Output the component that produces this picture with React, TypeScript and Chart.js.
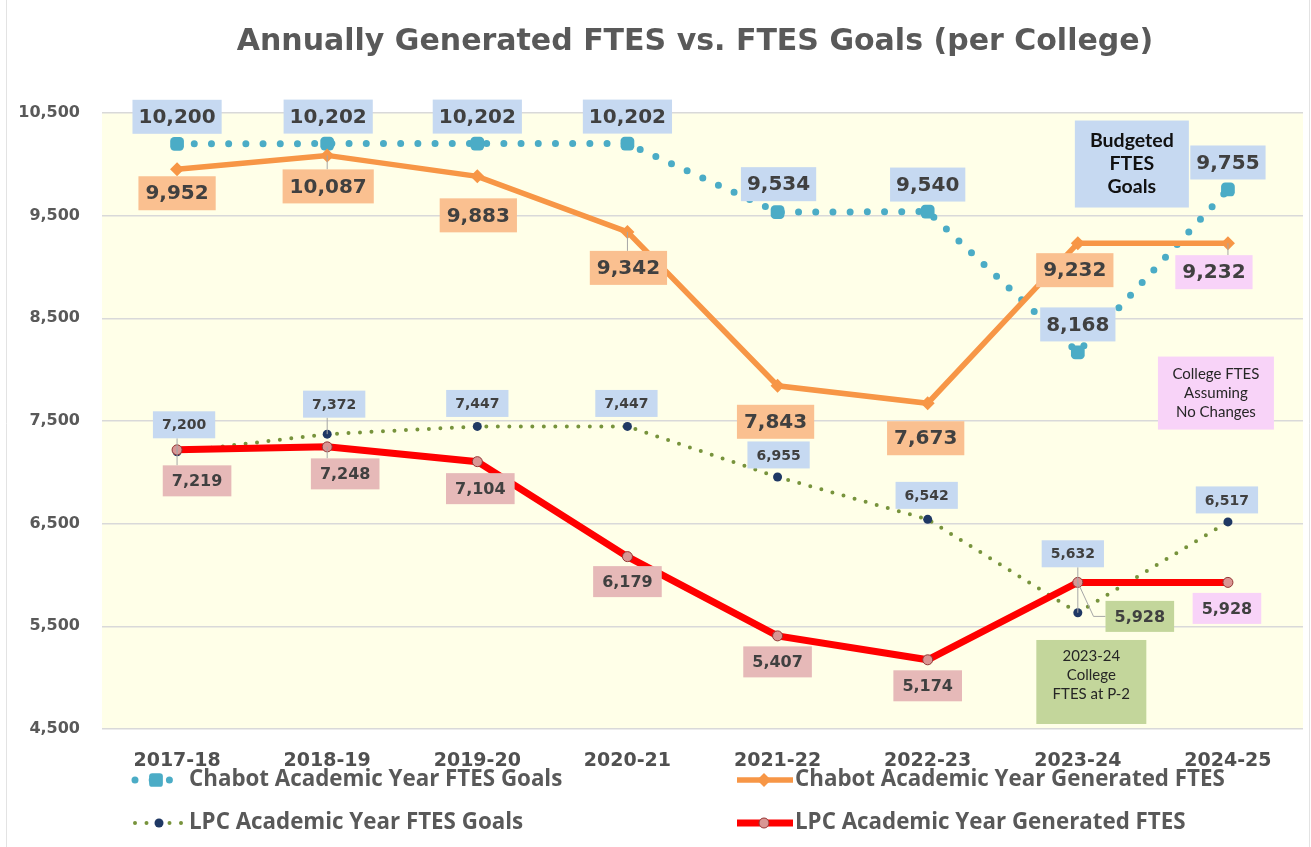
import React, { useEffect, useRef } from 'react';
import { Chart, registerables } from 'chart.js';

Chart.register(...registerables);

// ---------- data ----------
const categories = ['2017-18', '2018-19', '2019-20', '2020-21', '2021-22', '2022-23', '2023-24', '2024-25'];
const chabotGoals = [10200, 10202, 10202, 10202, 9534, 9540, 8168, 9755];
const chabotGenerated = [9952, 10087, 9883, 9342, 7843, 7673, 9232, 9232];
const lpcGoals = [7200, 7372, 7447, 7447, 6955, 6542, 5632, 6517];
const lpcGenerated = [7219, 7248, 7104, 6179, 5407, 5174, 5928, 5928];
const seriesNames = [
  'Chabot Academic Year FTES Goals',
  'Chabot Academic Year Generated FTES',
  'LPC Academic Year FTES Goals',
  'LPC Academic Year Generated FTES',
];
const yMin = 4500;
const yMax = 10500;
const yStep = 1000;
const titleText = 'Annually Generated FTES vs. FTES Goals (per College)';
const noteBudgeted = ['Budgeted', 'FTES', 'Goals'];
const noteNoChanges = ['College FTES', 'Assuming', 'No Changes'];
const noteP2 = ['2023-24', 'College', 'FTES at P-2'];

// ---------- label placement (styling only) ----------
// [dx, dy, leader(0 none,1 straight,2 elbow), background]
const BLUE = '#C6D9F1';
const ORANGE = '#FAC090';
const ROSE = '#E6B9B8';
const PINK = '#F8D3F8';
const GREEN = '#C3D69B';
type Place = [number, number, number, string];
const chabotGoalsPlace: Place[] = [
  [0, -27, 0, BLUE], [1, -27, 0, BLUE], [0, -27, 0, BLUE], [0, -27, 0, BLUE],
  [1, -28, 0, BLUE], [0, -27, 0, BLUE], [0, -28, 0, BLUE], [0, -27, 0, BLUE],
];
const chabotGenPlace: Place[] = [
  [0, 24, 0, ORANGE], [1, 31, 1, ORANGE], [1, 39, 0, ORANGE], [1, 36, 1, ORANGE],
  [-2, 36, 0, ORANGE], [-2, 35, 0, ORANGE], [-3, 27, 0, ORANGE], [-14, 29, 1, PINK],
];
const lpcGoalsPlace: Place[] = [
  [7, -27, 1, BLUE], [7, -30, 1, BLUE], [0, -23, 0, BLUE], [-1, -23, 0, BLUE],
  [1, -22, 0, BLUE], [-1, -24, 0, BLUE], [-5, -59, 1, BLUE], [-1, -22, 0, BLUE],
];
const lpcGenPlace: Place[] = [
  [20, 31, 1, ROSE], [18, 27, 1, ROSE], [3, 27, 0, ROSE], [0, 25, 0, ROSE],
  [0, 26, 0, ROSE], [0, 26, 0, ROSE], [62, 34, 2, GREEN], [-1, 26, 0, PINK],
];
const labelStyles = [
  { place: chabotGoalsPlace, font: 'bold 20px "DejaVu Sans"', padX: 6, h: 34 },
  { place: chabotGenPlace, font: 'bold 20px "DejaVu Sans"', padX: 7, h: 34 },
  { place: lpcGoalsPlace, font: 'bold 14px "DejaVu Sans"', padX: 9, h: 27 },
  { place: lpcGenPlace, font: 'bold 16px "DejaVu Sans"', padX: 9, h: 31 },
];

const fmt = (v: number) => v.toLocaleString('en-US');

const drawBox = (ctx: CanvasRenderingContext2D, cx: number, cy: number, w: number, h: number, bg: string) => {
  ctx.fillStyle = bg;
  ctx.fillRect(cx - w / 2, cy - h / 2, w, h);
};

const drawMarker = (ctx: CanvasRenderingContext2D, ds: any, x: number, y: number) => {
  const r = ds.pointRadius;
  ctx.save();
  ctx.fillStyle = ds.pointBackgroundColor;
  ctx.strokeStyle = ds.pointBorderColor;
  ctx.lineWidth = ds.pointBorderWidth || 0;
  ctx.setLineDash([]);
  ctx.beginPath();
  if (ds.pointStyle === 'rectRounded') {
    const half = r * 0.858;
    const cr = r * 0.4;
    ctx.moveTo(x - half + cr, y - half);
    ctx.arcTo(x + half, y - half, x + half, y + half, cr);
    ctx.arcTo(x + half, y + half, x - half, y + half, cr);
    ctx.arcTo(x - half, y + half, x - half, y - half, cr);
    ctx.arcTo(x - half, y - half, x + half, y - half, cr);
  } else if (ds.pointStyle === 'rectRot') {
    ctx.moveTo(x, y - r);
    ctx.lineTo(x + r, y);
    ctx.lineTo(x, y + r);
    ctx.lineTo(x - r, y);
  } else {
    ctx.arc(x, y, r, 0, Math.PI * 2);
  }
  ctx.closePath();
  ctx.fill();
  if (ds.pointBorderWidth) ctx.stroke();
  ctx.restore();
};

const customPlugin = {
  id: 'custom',
  beforeDraw(chart: any) {
    const { ctx, chartArea: a } = chart;
    ctx.save();
    ctx.fillStyle = '#FFFFFF';
    ctx.fillRect(0, 0, chart.width, chart.height);
    ctx.fillStyle = '#FFFFE8';
    ctx.fillRect(a.left, a.top, a.right - a.left, a.bottom - a.top);
    ctx.strokeStyle = '#E3E3E3';
    ctx.lineWidth = 1;
    ctx.beginPath();
    ctx.moveTo(6.5, 0);
    ctx.lineTo(6.5, chart.height);
    ctx.moveTo(1309.5, 0);
    ctx.lineTo(1309.5, chart.height);
    ctx.stroke();
    ctx.restore();
  },
  afterDatasetsDraw(chart: any) {
    const { ctx } = chart;
    const xs = chart.scales.x;
    const ys = chart.scales.y;
    ctx.save();
    // leaders first
    chart.data.datasets.forEach((ds: any, di: number) => {
      const st = labelStyles[di];
      ctx.font = st.font;
      ds.data.forEach((v: number, i: number) => {
        const [dx, dy, leader] = st.place[i];
        if (!leader) return;
        const px = xs.getPixelForValue(i);
        const py = ys.getPixelForValue(v);
        const w = ctx.measureText(fmt(v)).width + st.padX * 2;
        const cx = px + dx;
        const cy = py + dy;
        const l = cx - w / 2, r = cx + w / 2, t = cy - st.h / 2, b = cy + st.h / 2;
        ctx.strokeStyle = '#A6A6A6';
        ctx.lineWidth = 1;
        ctx.beginPath();
        ctx.moveTo(px, py);
        if (leader === 2) {
          ctx.lineTo(l - 12, cy);
          ctx.lineTo(l, cy);
        } else {
          const qx = Math.min(Math.max(px, l), r);
          const qy = Math.min(Math.max(py, t), b);
          ctx.lineTo(qx, qy);
        }
        ctx.stroke();
      });
    });
    // boxes and texts
    chart.data.datasets.forEach((ds: any, di: number) => {
      const st = labelStyles[di];
      ctx.font = st.font;
      ctx.textAlign = 'center';
      ctx.textBaseline = 'middle';
      ds.data.forEach((v: number, i: number) => {
        const [dx, dy, , bg] = st.place[i];
        const px = xs.getPixelForValue(i);
        const py = ys.getPixelForValue(v);
        const txt = fmt(v);
        const w = ctx.measureText(txt).width + st.padX * 2;
        drawBox(ctx, px + dx, py + dy, w, st.h, bg);
        ctx.fillStyle = '#404040';
        ctx.fillText(txt, px + dx, py + dy + 1);
      });
    });

    // note boxes anchored in data coordinates
    const notes = [
      { lines: noteBudgeted, xi: 6.36, y: 10003, w: 114, h: 87, bg: BLUE, font: 'bold 19.5px Lato', lh: 23, color: '#111111', top: 0 },
      { lines: noteNoChanges, xi: 6.92, y: 7772, w: 116, h: 73, bg: PINK, font: '15px Lato', lh: 19, color: '#262626', top: 0 },
      { lines: noteP2, xi: 6.09, y: 4958, w: 110, h: 84, bg: GREEN, font: '15px Lato', lh: 19, color: '#262626', top: 16 },
    ];
    notes.forEach((n) => {
      const cx = xs.getPixelForValue(0) + n.xi * (xs.getPixelForValue(1) - xs.getPixelForValue(0));
      const cy = ys.getPixelForValue(n.y);
      drawBox(ctx, cx, cy, n.w, n.h, n.bg);
      ctx.font = n.font;
      ctx.fillStyle = n.color;
      ctx.textAlign = 'center';
      ctx.textBaseline = 'middle';
      const top = n.top ? cy - n.h / 2 + n.top : cy - ((n.lines.length - 1) * n.lh) / 2;
      n.lines.forEach((s, k) => ctx.fillText(s, cx, top + k * n.lh));
    });
    ctx.restore();
  },
  afterDraw(chart: any) {
    const { ctx } = chart;
    ctx.save();
    // title
    ctx.font = 'bold 30px "DejaVu Sans"';
    ctx.fillStyle = '#595959';
    ctx.textAlign = 'center';
    ctx.textBaseline = 'middle';
    ctx.fillText(titleText, 695, 42);

    // legend
    const slots = [
      { x1: 135, x2: 171, mx: 156, tx: 189, y: 780 },
      { x1: 737, x2: 793, mx: 764, tx: 795, y: 780 },
      { x1: 135, x2: 182, mx: 159, tx: 189, y: 823 },
      { x1: 737, x2: 793, mx: 764, tx: 795, y: 823 },
    ];
    // legend font size fitted so the longest entry spans the reference width
    ctx.font = 'bold 20px "Open Sans"';
    const base = ctx.measureText(seriesNames[1]).width;
    const size = 20 * (430 / base);
    chart.data.datasets.forEach((ds: any, di: number) => {
      const s = slots[di];
      ctx.save();
      ctx.strokeStyle = ds.borderColor;
      ctx.lineWidth = ds.borderWidth;
      ctx.lineCap = ds.borderCapStyle || 'butt';
      ctx.setLineDash(ds.borderDash || []);
      ctx.beginPath();
      ctx.moveTo(s.x1, s.y);
      ctx.lineTo(s.x2, s.y);
      ctx.stroke();
      ctx.restore();
      drawMarker(ctx, ds, s.mx, s.y);
      ctx.font = `bold ${size}px "Open Sans"`;
      ctx.fillStyle = '#595959';
      ctx.textAlign = 'left';
      ctx.textBaseline = 'middle';
      ctx.fillText(ds.label, s.tx, s.y);
    });
    ctx.restore();
  },
};

export default function App() {
  const ref = useRef<HTMLCanvasElement>(null);
  useEffect(() => {
    const canvas = ref.current!;
    const chart = new Chart(canvas, {
      type: 'line',
      data: {
        labels: categories,
        datasets: [
          {
            label: seriesNames[0], data: chabotGoals, borderColor: '#4BACC6', backgroundColor: '#4BACC6',
            borderWidth: 7, borderDash: [0, 17.2], borderCapStyle: 'round', pointStyle: 'rectRounded',
            pointRadius: 8, pointBackgroundColor: '#4BACC6', pointBorderColor: '#4BACC6', pointBorderWidth: 0,
            tension: 0, order: 4,
          },
          {
            label: seriesNames[1], data: chabotGenerated, borderColor: '#F79646', backgroundColor: '#F79646',
            borderWidth: 5.5, pointStyle: 'rectRot', pointRadius: 7, pointBackgroundColor: '#F79646',
            pointBorderColor: '#F79646', pointBorderWidth: 0, tension: 0, order: 3,
          },
          {
            label: seriesNames[2], data: lpcGoals, borderColor: '#77933C', backgroundColor: '#77933C',
            borderWidth: 4, borderDash: [0, 11.5], borderCapStyle: 'round', pointStyle: 'circle',
            pointRadius: 4.5, pointBackgroundColor: '#1F3864', pointBorderColor: '#1F3864', pointBorderWidth: 0,
            tension: 0, order: 2,
          },
          {
            label: seriesNames[3], data: lpcGenerated, borderColor: '#FF0000', backgroundColor: '#FF0000',
            borderWidth: 7, pointStyle: 'circle', pointRadius: 5, pointBackgroundColor: '#D99694',
            pointBorderColor: '#953735', pointBorderWidth: 1, tension: 0, order: 1,
          },
        ],
      } as any,
      options: {
        animation: false,
        responsive: false,
        layout: { padding: { left: 0, right: 1, top: 113, bottom: 58 } },
        plugins: { legend: { display: false }, title: { display: false }, tooltip: { enabled: false } },
        scales: {
          x: {
            offset: true,
            grid: { display: false, drawTicks: false },
            border: { display: false },
            ticks: { font: { family: 'DejaVu Sans', size: 19, weight: 'bold' }, color: '#505050', padding: 21, maxRotation: 0 },
            afterFit: (s: any) => { s.height = 60; },
          },
          y: {
            min: yMin,
            max: yMax,
            ticks: {
              stepSize: yStep,
              callback: (v: any) => fmt(Number(v)),
              font: { family: 'DejaVu Sans', size: 16, weight: 'bold' },
              color: '#595959',
              padding: 22,
            },
            grid: { color: '#D9D9D9', drawTicks: false, lineWidth: 1.5 },
            border: { display: false },
            afterFit: (s: any) => { s.width = 102; },
          },
        },
      } as any,
      plugins: [customPlugin],
    });
    return () => chart.destroy();
  }, []);
  return (
    <div style={{ position: 'absolute', left: 0, top: 0, width: 1311, height: 847 }}>
      <canvas ref={ref} width={1311} height={847} style={{ display: 'block' }} />
    </div>
  );
}
